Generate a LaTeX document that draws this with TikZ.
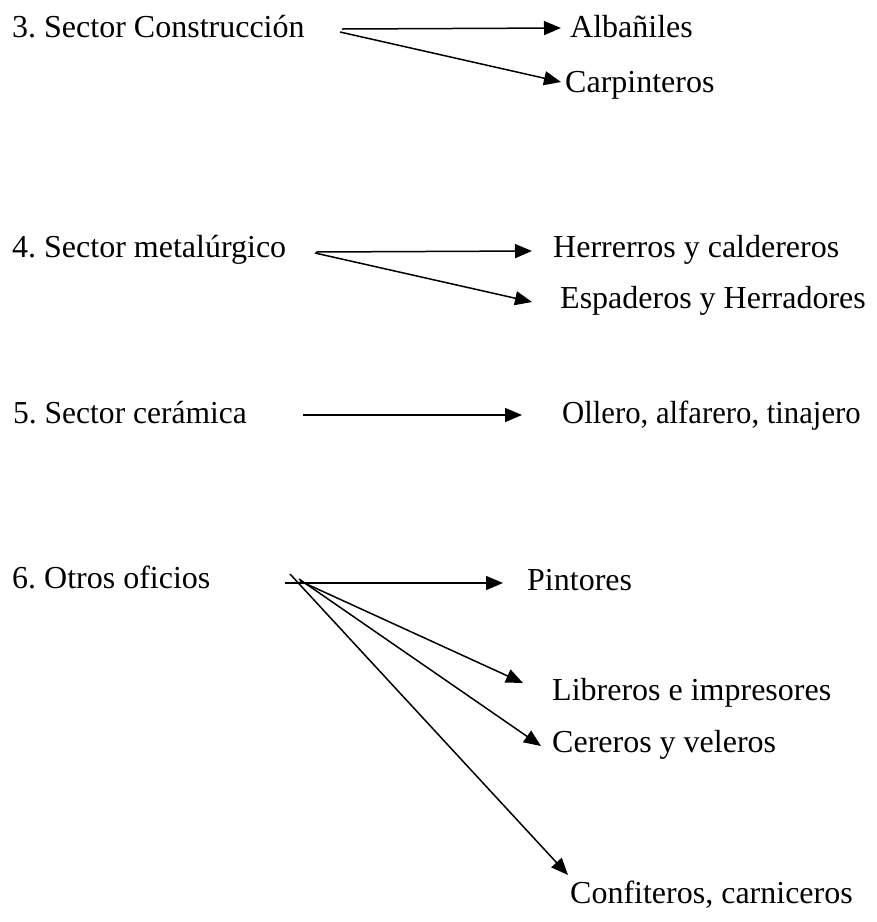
\documentclass[tikz,border=0pt]{standalone}
\usepackage{fontspec}
\setmainfont{Liberation Serif}
\usetikzlibrary{arrows.meta}
\frenchspacing
\tikzset{
  lbl/.style={anchor=base west, inner sep=0pt, font=\frenchspacing\fontsize{32}{38}\selectfont},
  arr/.style={line width=1.5pt, -{Triangle[length=17pt,width=14pt]}},
  plain/.style={line width=1.5pt}
}
\begin{document}
\begin{tikzpicture}[x=1pt,y=-1pt]
\useasboundingbox (0,0) rectangle (877,922);
% Section 3
\node[lbl] (s3) at (12,37) {3. Sector Construcción};
\node[lbl] (alb) at (570,37) {Albañiles};
\node[lbl] (car) at (565,92) {Carpinteros};
\coordinate (s3a) at (342,29);
\coordinate (s3b) at (340,32);
\coordinate (albt) at (561,28);
\coordinate (cart) at (561,82);
\draw[arr] (s3a) -- (albt);
\draw[arr] (s3b) -- (cart);
% Section 4
\node[lbl] (s4) at (12,257) {4. Sector metalúrgico};
\node[lbl] (her) at (553,257) {Herrerros y caldereros};
\node[lbl] (esp) at (560,308) {Espaderos y Herradores};
\coordinate (s4a) at (316,252);
\coordinate (s4b) at (315,253);
\coordinate (hert) at (532,251);
\coordinate (espt) at (532,302);
\draw[arr] (s4a) -- (hert);
\draw[arr] (s4b) -- (espt);
% Section 5
\node[lbl, xscale=0.985] (s5) at (13,423) {5. Sector cerámica};
\node[lbl, xscale=0.96] (oll) at (562,423) {Ollero, alfarero, tinajero};
\coordinate (s5a) at (303,415);
\coordinate (ollt) at (522,415);
\draw[arr] (s5a) -- (ollt);
% Section 6
\node[lbl] (s6) at (12,588) {6. Otros oficios};
\node[lbl] (pin) at (527,590) {Pintores};
\node[lbl] (lib) at (552,700) {Libreros e impresores};
\node[lbl] (cer) at (552,752) {Cereros y veleros};
\node[lbl] (con) at (570,903) {Confiteros, carniceros};
\coordinate (s6a) at (285,583);
\coordinate (pint) at (503,583);
\coordinate (s6b) at (300,581);
\coordinate (libt) at (523,683);
\coordinate (s6c) at (299,579);
\coordinate (cert) at (541,746);
\coordinate (s6d) at (290,574);
\coordinate (cont) at (568,875);
\draw[arr] (s6a) -- (pint);
\draw[arr] (s6b) -- (libt);
\draw[arr] (s6c) -- (cert);
\draw[arr] (s6d) -- (cont);
\end{tikzpicture}
\end{document}
